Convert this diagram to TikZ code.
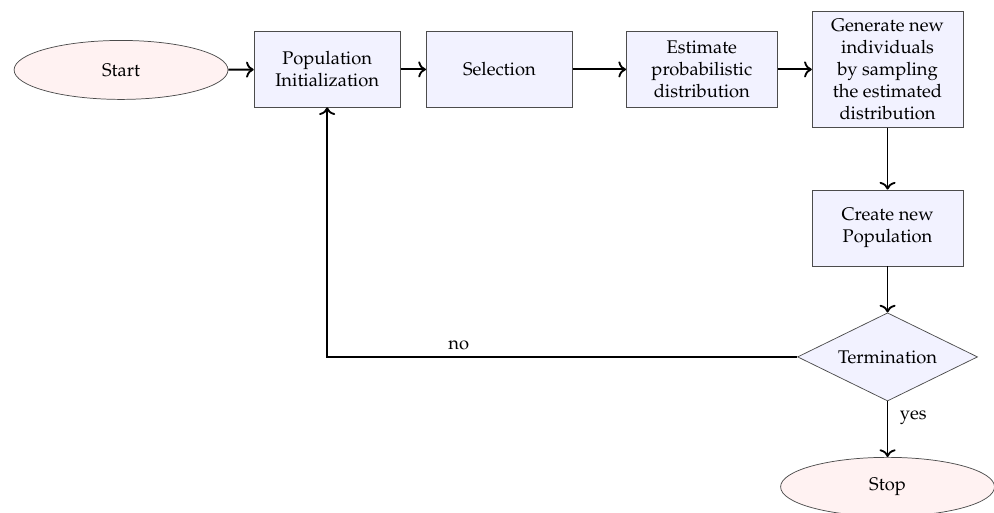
\documentclass[tikz,border=0pt]{standalone}
\usepackage[T1]{fontenc}
\usepackage{mathpazo}
\usepackage{tikz}
\usetikzlibrary{arrows.meta, shapes.geometric}

\begin{document}
\begin{tikzpicture}[>={To[scale=1.1]},
  stepbox/.style={draw=black!70, fill=blue!5, minimum width=2.8cm, minimum height=1.44cm, align=center},
  endpoint/.style={draw=black!70, fill=red!5, ellipse, minimum width=4.1cm, minimum height=1.13cm},
  flow/.style={->, line width=1pt}]

\useasboundingbox (0,0) rectangle (19.05,-9.83);

% start and the row of steps
\node[endpoint] (start) at (2.32,-1.34) {Start};
\node[stepbox] (init) at (6.27,-1.33) {Population\\Initialization};
\node[stepbox] (sel) at (9.57,-1.33) {Selection};
\node[stepbox, minimum width=2.89cm] (est) at (13.45,-1.33) {Estimate\\probabilistic\\distribution};
\node[stepbox, minimum width=2.89cm, minimum height=2.22cm] (gen) at (17.01,-1.33) {Generate new\\individuals\\by sampling\\the estimated\\distribution};

% going down on the right
\node[stepbox, minimum width=2.89cm, minimum height=1.46cm] (new) at (17.01,-4.37) {Create new\\Population};
\node[draw=black!70, fill=blue!5, diamond, aspect=2.05, inner sep=0pt, minimum width=3.45cm, minimum height=1.69cm] (term) at (17.01,-6.84) {Termination};
\node[endpoint] (stop) at (17.01,-9.33) {Stop};

\draw[flow] (start) -- (init);
\draw[flow] (init) -- (sel);
\draw[flow] (sel) -- (est);
\draw[flow] (est) -- (gen);
\draw[flow] (gen) -- (new);
\draw[flow] (new) -- (term);
\draw[flow] (term) -- (stop) node[pos=0.3, right, xshift=0.1cm] {yes};

% loop back when not finished
\draw[flow] (term.west) -| (init.south) node[pos=0.36, above] {no};

\end{tikzpicture}
\end{document}
